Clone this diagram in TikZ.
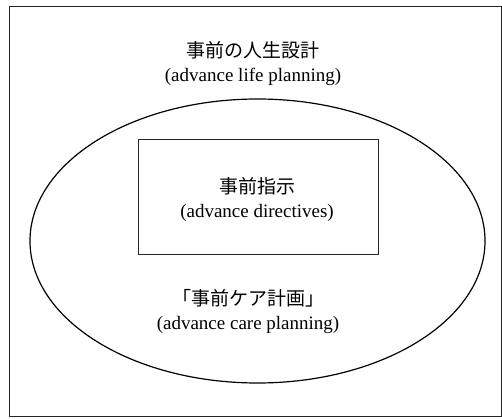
\documentclass[tikz,border=0pt]{standalone}
\usepackage{fontspec}
\setmainfont{Liberation Serif}
\newfontfamily\jp{Noto Sans CJK JP}
\usetikzlibrary{shapes.geometric}
\begin{document}
\begin{tikzpicture}[x=1pt,y=-1pt,
  lbl/.style={align=center,font=\fontsize{19}{24}\selectfont,inner sep=0pt},
  box/.style={draw=black!85,line width=0.9pt,inner sep=0pt,fill=none},
  oval/.style={draw=black,line width=1.2pt,ellipse,inner sep=0pt}]
\useasboundingbox (0,0) rectangle (502,419);
\node[box,minimum width=492pt,minimum height=410pt] (outer) at (255,211) {};
\node[oval,minimum width=455pt,minimum height=284pt] (acp) at (257.5,241) {};
\node[box,minimum width=240pt,minimum height=115pt] (ad) at (258,196.5) {};
\node[lbl] (t1) at (253,64) {{\jp 事前の人生設計}\\(advance life planning)};
\node[lbl] (t2) at (257,199) {{\jp 事前指示}\\(advance directives)};
\node[lbl] (t3) at (248,312) {{\jp 「事前ケア計画」}\\(advance care planning)};
\end{tikzpicture}
\end{document}
